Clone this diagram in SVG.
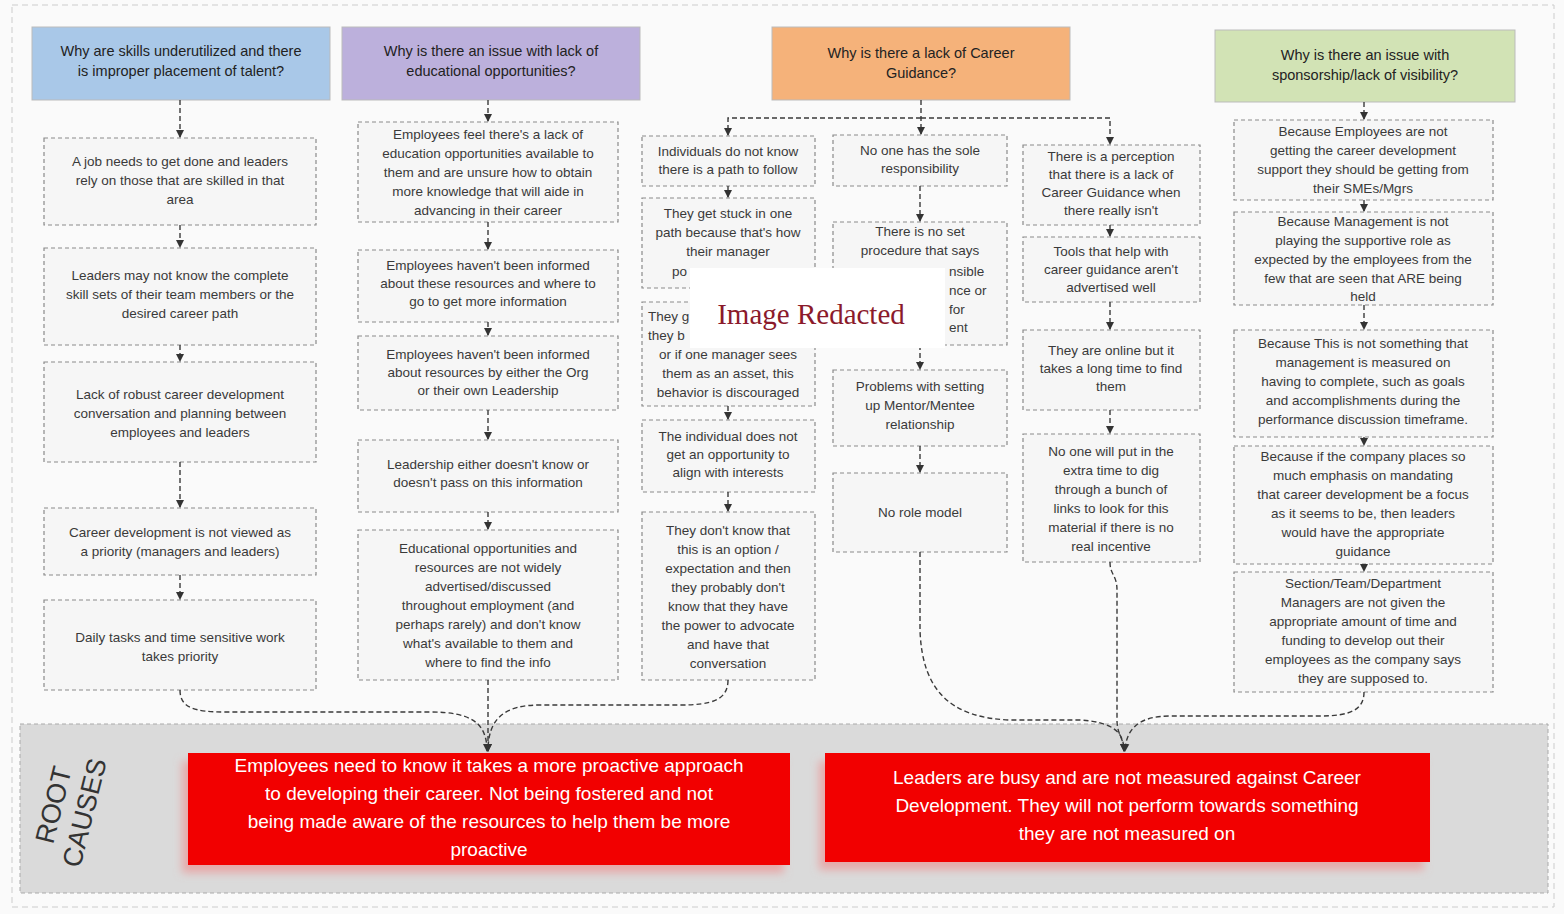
<svg xmlns="http://www.w3.org/2000/svg" width="1564" height="914" viewBox="0 0 1564 914">
<defs>
<marker id="ah" markerWidth="10" markerHeight="10" refX="8" refY="5" orient="auto" markerUnits="userSpaceOnUse">
<path d="M1,1 L9,5 L1,9 Z" fill="#333"/>
</marker>
<filter id="sh" x="-10%" y="-20%" width="120%" height="150%">
<feDropShadow dx="-6" dy="8" stdDeviation="4" flood-color="#e88" flood-opacity="0.6"/>
</filter>
<style>
.box{fill:#f6f6f6;stroke:#8a8a8a;stroke-width:1.2;stroke-dasharray:4 3}
.hdr{stroke:#bbb;stroke-width:1}
.t{font-family:"Liberation Sans",Arial,sans-serif;font-size:13.5px;fill:#3a3a3a;text-anchor:middle}
.f{font-family:"Liberation Sans",Arial,sans-serif;font-size:13.5px;fill:#3a3a3a;text-anchor:start}
.h{font-family:"Liberation Sans",Arial,sans-serif;font-size:14.5px;fill:#222;text-anchor:middle}
.r{font-family:"Liberation Sans",Arial,sans-serif;font-size:19px;fill:#fff;text-anchor:middle}
.c{fill:none;stroke:#3a3a3a;stroke-width:1.4;stroke-dasharray:5 3}
</style>
</defs>
<rect x="0" y="0" width="1564" height="914" fill="#fafafa"/>
<rect x="12" y="5" width="1542" height="902" fill="none" stroke="#ccc" stroke-width="1" stroke-dasharray="6 4"/>

<g id="root-band">
<rect x="20" y="724" width="1528" height="169" fill="#dadada" stroke="#aaa" stroke-dasharray="4 3"/>
<text transform="translate(74,810) rotate(-76)" font-family="Liberation Sans,Arial,sans-serif" font-size="27" fill="#333" text-anchor="middle"><tspan x="0" y="-12">ROOT</tspan><tspan x="0" y="20">CAUSES</tspan></text>
</g>

<g id="h1"><rect class="hdr" x="32" y="27" width="298" height="73" fill="#a9c8e8"/>
<text class="h"><tspan x="181" y="56">Why are skills underutilized and there</tspan><tspan x="181" y="76">is improper placement of talent?</tspan></text></g>
<g id="h2"><rect class="hdr" x="342" y="27" width="298" height="73" fill="#bcb0dc"/>
<text class="h"><tspan x="491" y="56">Why is there an issue with lack of</tspan><tspan x="491" y="76">educational opportunities?</tspan></text></g>
<g id="h3"><rect class="hdr" x="772" y="27" width="298" height="73" fill="#f5b27a"/>
<text class="h"><tspan x="921" y="58">Why is there a lack of Career</tspan><tspan x="921" y="78">Guidance?</tspan></text></g>
<g id="h4"><rect class="hdr" x="1215" y="30" width="300" height="72" fill="#d2e3b5"/>
<text class="h"><tspan x="1365" y="60">Why is there an issue with</tspan><tspan x="1365" y="80">sponsorship/lack of visibility?</tspan></text></g>

<g id="c1b1"><rect class="box" x="44" y="138" width="272" height="87"/>
<text class="t"><tspan x="180" y="166">A job needs to get done and leaders</tspan><tspan x="180" y="185">rely on those that are skilled in that</tspan><tspan x="180" y="204">area</tspan></text></g>
<g id="c1b2"><rect class="box" x="44" y="248" width="272" height="97"/>
<text class="t"><tspan x="180" y="280">Leaders may not know the complete</tspan><tspan x="180" y="299">skill sets of their team members or the</tspan><tspan x="180" y="318">desired career path</tspan></text></g>
<g id="c1b3"><rect class="box" x="44" y="362" width="272" height="100"/>
<text class="t"><tspan x="180" y="399">Lack of robust career development</tspan><tspan x="180" y="418">conversation and planning between</tspan><tspan x="180" y="437">employees and leaders</tspan></text></g>
<g id="c1b4"><rect class="box" x="44" y="508" width="272" height="67"/>
<text class="t"><tspan x="180" y="537">Career development is not viewed as</tspan><tspan x="180" y="556">a priority (managers and leaders)</tspan></text></g>
<g id="c1b5"><rect class="box" x="44" y="600" width="272" height="90"/>
<text class="t"><tspan x="180" y="642">Daily tasks and time sensitive work</tspan><tspan x="180" y="661">takes priority</tspan></text></g>

<g id="c2b1"><rect class="box" x="358" y="122" width="260" height="100"/>
<text class="t"><tspan x="488" y="139">Employees feel there's a lack of</tspan><tspan x="488" y="158">education opportunities available to</tspan><tspan x="488" y="177">them and are unsure how to obtain</tspan><tspan x="488" y="196">more knowledge that will aide in</tspan><tspan x="488" y="215">advancing in their career</tspan></text></g>
<g id="c2b2"><rect class="box" x="358" y="250" width="260" height="72"/>
<text class="t"><tspan x="488" y="270">Employees haven't been informed</tspan><tspan x="488" y="288">about these resources and where to</tspan><tspan x="488" y="306">go to get more information</tspan></text></g>
<g id="c2b3"><rect class="box" x="358" y="336" width="260" height="74"/>
<text class="t"><tspan x="488" y="359">Employees haven't been informed</tspan><tspan x="488" y="377">about resources by either the Org</tspan><tspan x="488" y="395">or their own Leadership</tspan></text></g>
<g id="c2b4"><rect class="box" x="358" y="440" width="260" height="72"/>
<text class="t"><tspan x="488" y="469">Leadership either doesn't know or</tspan><tspan x="488" y="487">doesn't pass on this information</tspan></text></g>
<g id="c2b5"><rect class="box" x="358" y="530" width="260" height="150"/>
<text class="t"><tspan x="488" y="553">Educational opportunities and</tspan><tspan x="488" y="572">resources are not widely</tspan><tspan x="488" y="591">advertised/discussed</tspan><tspan x="488" y="610">throughout employment (and</tspan><tspan x="488" y="629">perhaps rarely) and don't know</tspan><tspan x="488" y="648">what's available to them and</tspan><tspan x="488" y="667">where to find the info</tspan></text></g>

<g id="c3b1"><rect class="box" x="642" y="136" width="173" height="50"/>
<text class="t"><tspan x="728" y="156">Individuals do not know</tspan><tspan x="728" y="174">there is a path to follow</tspan></text></g>
<g id="c3b2"><rect class="box" x="642" y="198" width="173" height="90"/>
<text class="t"><tspan x="728" y="218">They get stuck in one</tspan><tspan x="728" y="237">path because that's how</tspan><tspan x="728" y="256">their manager</tspan></text>
<text class="f" x="672" y="276">po</text></g>
<g id="c3b3"><rect class="box" x="642" y="302" width="173" height="104"/>
<text class="f"><tspan x="648" y="321">They g</tspan><tspan x="648" y="340">they b</tspan></text>
<text class="t"><tspan x="728" y="359">or if one manager sees</tspan><tspan x="728" y="378">them as an asset, this</tspan><tspan x="728" y="397">behavior is discouraged</tspan></text></g>
<g id="c3b4"><rect class="box" x="642" y="420" width="173" height="72"/>
<text class="t"><tspan x="728" y="441">The individual does not</tspan><tspan x="728" y="459">get an opportunity to</tspan><tspan x="728" y="477">align with interests</tspan></text></g>
<g id="c3b5"><rect class="box" x="642" y="512" width="173" height="168"/>
<text class="t"><tspan x="728" y="535">They don't know that</tspan><tspan x="728" y="554">this is an option /</tspan><tspan x="728" y="573">expectation and then</tspan><tspan x="728" y="592">they probably don't</tspan><tspan x="728" y="611">know that they have</tspan><tspan x="728" y="630">the power to advocate</tspan><tspan x="728" y="649">and have that</tspan><tspan x="728" y="668">conversation</tspan></text></g>

<g id="c4b1"><rect class="box" x="833" y="135" width="174" height="51"/>
<text class="t"><tspan x="920" y="155">No one has the sole</tspan><tspan x="920" y="173">responsibility</tspan></text></g>
<g id="c4b2"><rect class="box" x="833" y="222" width="174" height="123"/>
<text class="t"><tspan x="920" y="236">There is no set</tspan><tspan x="920" y="255">procedure that says</tspan></text>
<text class="f"><tspan x="949" y="276">nsible</tspan><tspan x="949" y="295">nce or</tspan><tspan x="949" y="314">for</tspan><tspan x="949" y="332">ent</tspan></text></g>
<g id="c4b3"><rect class="box" x="833" y="370" width="174" height="76"/>
<text class="t"><tspan x="920" y="391">Problems with setting</tspan><tspan x="920" y="410">up Mentor/Mentee</tspan><tspan x="920" y="429">relationship</tspan></text></g>
<g id="c4b4"><rect class="box" x="833" y="473" width="174" height="79"/>
<text class="t"><tspan x="920" y="517">No role model</tspan></text></g>

<g id="c5b1"><rect class="box" x="1023" y="145" width="177" height="80"/>
<text class="t"><tspan x="1111" y="161">There is a perception</tspan><tspan x="1111" y="179">that there is a lack of</tspan><tspan x="1111" y="197">Career Guidance when</tspan><tspan x="1111" y="215">there really isn't</tspan></text></g>
<g id="c5b2"><rect class="box" x="1023" y="237" width="177" height="65"/>
<text class="t"><tspan x="1111" y="256">Tools that help with</tspan><tspan x="1111" y="274">career guidance aren't</tspan><tspan x="1111" y="292">advertised well</tspan></text></g>
<g id="c5b3"><rect class="box" x="1023" y="330" width="177" height="80"/>
<text class="t"><tspan x="1111" y="355">They are online but it</tspan><tspan x="1111" y="373">takes a long time to find</tspan><tspan x="1111" y="391">them</tspan></text></g>
<g id="c5b4"><rect class="box" x="1023" y="434" width="177" height="128"/>
<text class="t"><tspan x="1111" y="456">No one will put in the</tspan><tspan x="1111" y="475">extra time to dig</tspan><tspan x="1111" y="494">through a bunch of</tspan><tspan x="1111" y="513">links to look for this</tspan><tspan x="1111" y="532">material if there is no</tspan><tspan x="1111" y="551">real incentive</tspan></text></g>

<g id="c6b1"><rect class="box" x="1234" y="120" width="259" height="80"/>
<text class="t"><tspan x="1363" y="136">Because Employees are not</tspan><tspan x="1363" y="155">getting the career development</tspan><tspan x="1363" y="174">support they should be getting from</tspan><tspan x="1363" y="193">their SMEs/Mgrs</tspan></text></g>
<g id="c6b2"><rect class="box" x="1234" y="212" width="259" height="93"/>
<text class="t"><tspan x="1363" y="226">Because Management is not</tspan><tspan x="1363" y="245">playing the supportive role as</tspan><tspan x="1363" y="264">expected by the employees from the</tspan><tspan x="1363" y="283">few that are seen that ARE being</tspan><tspan x="1363" y="301">held</tspan></text></g>
<g id="c6b3"><rect class="box" x="1234" y="330" width="259" height="107"/>
<text class="t"><tspan x="1363" y="348">Because This is not something that</tspan><tspan x="1363" y="367">management is measured on</tspan><tspan x="1363" y="386">having to complete, such as goals</tspan><tspan x="1363" y="405">and accomplishments during the</tspan><tspan x="1363" y="424">performance discussion timeframe.</tspan></text></g>
<g id="c6b4"><rect class="box" x="1234" y="446" width="259" height="118"/>
<text class="t"><tspan x="1363" y="461">Because if the company places so</tspan><tspan x="1363" y="480">much emphasis on mandating</tspan><tspan x="1363" y="499">that career development be a focus</tspan><tspan x="1363" y="518">as it seems to be, then leaders</tspan><tspan x="1363" y="537">would have the appropriate</tspan><tspan x="1363" y="556">guidance</tspan></text></g>
<g id="c6b5"><rect class="box" x="1234" y="572" width="259" height="120"/>
<text class="t"><tspan x="1363" y="588">Section/Team/Department</tspan><tspan x="1363" y="607">Managers are not given the</tspan><tspan x="1363" y="626">appropriate amount of time and</tspan><tspan x="1363" y="645">funding to develop out their</tspan><tspan x="1363" y="664">employees as the company says</tspan><tspan x="1363" y="683">they are supposed to.</tspan></text></g>

<g id="root1"><rect x="188" y="753" width="602" height="112" fill="#f20000" filter="url(#sh)"/>
<text class="r"><tspan x="489" y="772">Employees need to know it takes a more proactive approach</tspan><tspan x="489" y="800">to developing their career. Not being fostered and not</tspan><tspan x="489" y="828">being made aware of the resources to help them be more</tspan><tspan x="489" y="856">proactive</tspan></text></g>
<g id="root2"><rect x="825" y="753" width="605" height="109" fill="#f20000" filter="url(#sh)"/>
<text class="r"><tspan x="1127" y="784">Leaders are busy and are not measured against Career</tspan><tspan x="1127" y="812">Development. They will not perform towards something</tspan><tspan x="1127" y="840">they are not measured on</tspan></text></g>

<g id="connectors">
<path class="c" d="M180,100 V137" marker-end="url(#ah)"/>
<path class="c" d="M180,225 V247" marker-end="url(#ah)"/>
<path class="c" d="M180,345 V361" marker-end="url(#ah)"/>
<path class="c" d="M180,462 V507" marker-end="url(#ah)"/>
<path class="c" d="M180,575 V599" marker-end="url(#ah)"/>
<path class="c" d="M488,100 V121" marker-end="url(#ah)"/>
<path class="c" d="M488,222 V249" marker-end="url(#ah)"/>
<path class="c" d="M488,322 V335" marker-end="url(#ah)"/>
<path class="c" d="M488,410 V439" marker-end="url(#ah)"/>
<path class="c" d="M488,512 V529" marker-end="url(#ah)"/>
<path class="c" d="M921,100 V134" marker-end="url(#ah)"/>
<path class="c" d="M921,118 H728 V135" marker-end="url(#ah)"/>
<path class="c" d="M921,118 H1110 V144" marker-end="url(#ah)"/>
<path class="c" d="M728,186 V197" marker-end="url(#ah)"/>
<path class="c" d="M728,288 V301" marker-end="url(#ah)"/>
<path class="c" d="M728,406 V419" marker-end="url(#ah)"/>
<path class="c" d="M728,492 V511" marker-end="url(#ah)"/>
<path class="c" d="M920,186 V221" marker-end="url(#ah)"/>
<path class="c" d="M920,345 V369" marker-end="url(#ah)"/>
<path class="c" d="M920,446 V472" marker-end="url(#ah)"/>
<path class="c" d="M1110,225 V236" marker-end="url(#ah)"/>
<path class="c" d="M1110,302 V329" marker-end="url(#ah)"/>
<path class="c" d="M1110,410 V433" marker-end="url(#ah)"/>
<path class="c" d="M1364,102 V119" marker-end="url(#ah)"/>
<path class="c" d="M1364,200 V211" marker-end="url(#ah)"/>
<path class="c" d="M1364,305 V329" marker-end="url(#ah)"/>
<path class="c" d="M1364,437 V445" marker-end="url(#ah)"/>
<path class="c" d="M1364,564 V571" marker-end="url(#ah)"/>
<path class="c" d="M180,690 C180,708 195,712 225,712 H430 C470,712 487,722 487,751" marker-end="url(#ah)"/>
<path class="c" d="M488,680 V751" marker-end="url(#ah)"/>
<path class="c" d="M728,680 C728,700 712,705 680,705 H540 C505,705 488,718 488,751" marker-end="url(#ah)"/>
<path class="c" d="M920,552 V630 C922,690 950,718 1010,720 H1080 C1110,722 1124,730 1124,751" marker-end="url(#ah)"/>
<path class="c" d="M1110,562 C1110,575 1117,575 1117,590 V720 C1117,735 1124,738 1124,751" marker-end="url(#ah)"/>
<path class="c" d="M1364,692 C1364,710 1350,716 1320,716 H1170 C1140,716 1126,728 1125,751" marker-end="url(#ah)"/>
</g>

<g id="redaction">
<rect x="690" y="268" width="255" height="80" fill="#fff"/>
<text x="811" y="324" font-family="Liberation Serif,Times New Roman,serif" font-size="29" fill="#8b1a2b" text-anchor="middle">Image Redacted</text>
</g>
</svg>
